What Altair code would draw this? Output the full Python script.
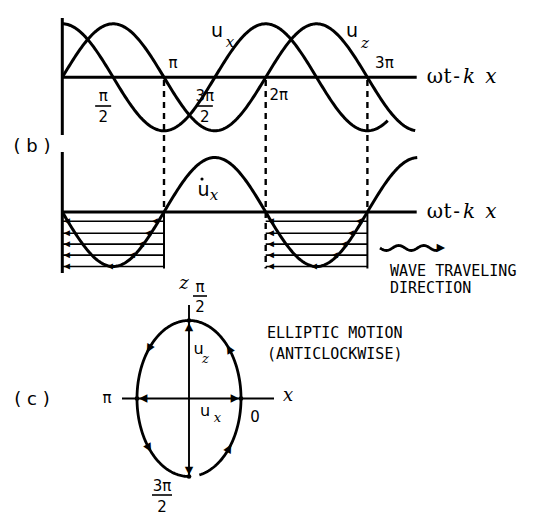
import numpy as np
import pandas as pd
import altair as alt

# ---------------- data ----------------
# panel (b): phase is measured in units of pi
ux_end = 3.2            # u_x (cosine-like) drawn up to ~3.2 pi
uz_end = 3.47           # u_z (sine-like) drawn up to ~3.47 pi
udot_end = 3.49         # particle velocity drawn up to ~3.5 pi
guide_phases = [1, 2, 3]                 # dashed verticals at pi, 2pi, 3pi
tick_text = ["π", "3π", "2π"]
frac_num = ["π", "3π"]
frac_phase = [0.5, 1.5]
hatch_regions = [(0, 1), (2, 3)]         # phase intervals of backward motion
hatch_levels = [0.17, 0.39, 0.59, 0.79, 1.0]   # fraction of amplitude
axis_glyphs = ["ω", "t", "-", "k", "x"]
# panel (c): elliptic particle motion
ellipse_ratio = 1.5                      # vertical / horizontal semi-axis
ellipse_arrow_phase = [0.22, 0.78, 1.22, 1.78]   # in units of pi
texts_wave = ["WAVE TRAVELING", "DIRECTION"]
texts_ellipse = ["ELLIPTIC MOTION", "(ANTICLOCKWISE)"]

# ---------------- layout (page pixels) ----------------
X0, PX = 62.3, 101.7          # phase 0 position, pixels per pi
YU, AU = 77.3, 53.5           # upper panel axis and amplitude
YL, AL = 212.0, 54.5          # lower panel axis and amplitude
XEND = 416.7
CX, CY, EA = 189.0, 398.5, 52.0
EB = EA * ellipse_ratio
glyph_dx = [0, 12.5, 21.5, 34, 56]


def px(p):
    return X0 + PX * p


XS = alt.X("x:Q", scale=alt.Scale(domain=[8, 533]), axis=None)
YS = alt.Y("y:Q", scale=alt.Scale(domain=[8, 516], reverse=True), axis=None)


def seg_df(segs):
    rows = []
    for g, s in enumerate(segs):
        for o, (x, y) in enumerate(s):
            rows.append({"x": float(x), "y": float(y), "g": g, "o": o})
    return pd.DataFrame(rows)


def lines(segs, width, dash=None):
    kw = dict(stroke="black", strokeWidth=width, strokeCap="butt", strokeJoin="round")
    if dash:
        kw["strokeDash"] = dash
    return alt.Chart(seg_df(segs)).mark_line(**kw).encode(
        x=XS, y=YS, detail="g:N", order="o:Q")


def heads(pts, size=10):
    """Arrowheads drawn as a rotated filled-triangle glyph (angle: clockwise from up)."""
    out = []
    for x, y, a in pts:
        df = pd.DataFrame({"x": [float(x)], "y": [float(y)], "t": ["▲"]})
        out.append(alt.Chart(df).mark_text(font="DejaVu Sans", fontSize=size, color="black",
                                           align="center", baseline="middle",
                                           angle=float(a % 360)).encode(x=XS, y=YS, text="t:N"))
    return out


def texts(items, size, font="DejaVu Sans", style="normal", align="center", weight="normal"):
    df = pd.DataFrame([{"x": x, "y": y, "t": t} for t, x, y in items])
    return alt.Chart(df).mark_text(font=font, fontSize=size, fontStyle=style, align=align,
                                   baseline="middle", fontWeight=weight, color="black").encode(
        x=XS, y=YS, text="t:N")


layers = []

# ---- panel (b) axes and curves ----
layers.append(lines([[(X0, 18), (X0, 135)], [(X0, YU), (XEND, YU)],
                     [(X0, 152), (X0, 273)], [(X0, YL), (XEND, YL)]], 3.0))
ph1 = np.linspace(0, ux_end, 240)
ph2 = np.linspace(0, uz_end, 260)
ph3 = np.linspace(0, udot_end, 260)
layers.append(lines([
    list(zip(px(ph1), YU - AU * np.cos(np.pi * ph1))),
    list(zip(px(ph2), YU - AU * np.sin(np.pi * ph2))),
    list(zip(px(ph3), YL + AL * np.sin(np.pi * ph3))),
], 3.0))

# dashed guides
dsegs = [[(px(p), 80), (px(p), YL)] for p in guide_phases]
dsegs.append([(px(2), YL), (px(2), YL + AL + 2)])
layers.append(lines(dsegs, 2.4, dash=[6, 5]))
layers.append(lines([[(px(1), YL), (px(1), YL + AL + 2)],
                     [(px(3), YL), (px(3), YL + AL + 2)]], 2.0))

# hatching of backward velocity
hsegs, hpts = [], []
for a, b in hatch_regions:
    for f in hatch_levels:
        y = YL + AL * f
        hsegs.append([(px(a), y), (px(b), y)])
        hpts.append((px(a) + 5, y, 270))
        pr = a + 1 - np.arcsin(f) / np.pi
        hpts.append((px(pr) - 3, y, 270))
layers.append(lines(hsegs, 1.7))
layers += heads(hpts, 8)

# wave travelling arrow
wx = np.linspace(380, 437, 80)
layers.append(lines([list(zip(wx, 248 + 2.5 * np.sin((wx - 380) / 60 * 2.4 * 2 * np.pi)))], 2.8))
layers += heads([(441, 248, 90)], 11)

# labels panel b
layers.append(texts([("( b )", 32, 147), ("( c )", 32, 400)], 18))
layers.append(texts([(tick_text[0], px(1) + 9, 63), (tick_text[1], px(3) + 17, 63),
                     (tick_text[2], px(2) + 13, 95)], 15))
fr = []
for t, p in zip(frac_num, frac_phase):
    fr.append((t, px(p) - 10, 96))
    fr.append(("2", px(p) - 10, 117))
layers.append(texts(fr, 15))
layers.append(lines([[(px(p) - 10 - 8, 106), (px(p) - 10 + 8, 106)] for p in frac_phase], 1.6))
glyphs = []
for yy in (YU, YL):
    for g, dx in zip(axis_glyphs, glyph_dx):
        glyphs.append((g, 435 + dx, yy))
layers.append(texts([t for t in glyphs if t[0] not in ("k", "x")], 20, font="DejaVu Serif"))
layers.append(texts([t for t in glyphs if t[0] in ("k", "x")], 20, font="DejaVu Serif", style="italic"))

layers.append(texts([("u", 217, 31), ("u", 352, 31), ("u", 203.5, 190)], 19))
layers.append(texts([("x", 230, 42), ("z", 365, 43), ("x", 214, 195)], 15,
                    font="DejaVu Serif", style="italic"))
layers.append(alt.Chart(pd.DataFrame({"x": [202.0], "y": [179.0]})).mark_point(
    shape="circle", filled=True, color="black", opacity=1, size=10).encode(x=XS, y=YS))

layers.append(texts([(texts_wave[0], 390, 270.5), (texts_wave[1], 390, 287.5),
                     (texts_ellipse[0], 267, 333), (texts_ellipse[1], 267, 353.5)],
                    15, font="DejaVu Sans Mono", align="left"))

# ---- panel (c) ----
th = np.linspace(-0.5 * np.pi + 0.2, 1.5 * np.pi, 300)
layers.append(lines([list(zip(CX + EA * np.cos(th), CY - EB * np.sin(th)))], 2.8))
layers.append(lines([[(CX, 305), (CX, CY + EB)], [(122, CY), (274, CY)]], 1.9))
ep = []
for p in ellipse_arrow_phase:
    t = np.pi * p
    ang = np.degrees(np.arctan2(-EA * np.sin(t), EB * np.cos(t)))
    ep.append((CX + EA * np.cos(t), CY - EB * np.sin(t), ang))
ep += [(CX, CY - EB + 6, 0), (CX, CY + EB - 6, 180), (CX - EA + 6, CY, 270), (CX + EA - 6, CY, 90)]
layers += heads(ep, 11)
layers.append(alt.Chart(pd.DataFrame({"x": [CX - EA, CX + EA, CX, CX],
                                      "y": [CY, CY, CY - EB, CY + EB]})).mark_point(
    shape="circle", filled=True, color="black", opacity=1, size=22).encode(x=XS, y=YS))

layers.append(texts([("π", 200, 287), ("2", 200, 307), ("3π", 162, 486), ("2", 162, 507),
                     ("π", 107, 398), ("0", 255, 417)], 15))
layers.append(lines([[(193, 296), (207, 296)], [(152, 495), (172, 495)]], 1.6))
layers.append(texts([("z", 184, 284), ("x", 288, 396)], 18, font="DejaVu Serif", style="italic"))
layers.append(texts([("u", 205, 411), ("u", 198.5, 349)], 16))
layers.append(texts([("x", 217.5, 418), ("z", 205.5, 359)], 13, font="DejaVu Serif", style="italic"))

chart = alt.layer(*layers).properties(
    width=525, height=508, padding=0,
    autosize=alt.AutoSizeParams(type="none"), background="white",
).configure_view(stroke=None)

chart.save("out.html", embed_options={"renderer": "svg", "actions": False})
